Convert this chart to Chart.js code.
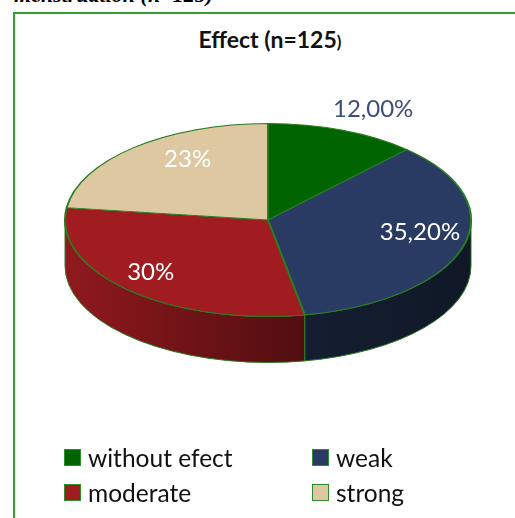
<!DOCTYPE html>
<html>
<head>
<meta charset="utf-8">
<script src="https://cdn.jsdelivr.net/npm/chart.js@4.4.1/dist/chart.umd.min.js"></script>
<style>
  body { margin: 0; width: 515px; height: 518px; overflow: hidden; background: #fff; position: relative; font-family: Lato, sans-serif; }
  #caption { position: absolute; left: -120px; width: 333px; top: -16px; text-align: right; font: italic bold 22px/22px "Liberation Serif", serif; color: #000; white-space: nowrap; }
  #frame { position: absolute; left: 13px; top: 12px; width: 600px; height: 600px; border: 2px solid #33a033; }
  #title { position: absolute; left: 0; width: 540px; top: 25px; text-align: center; font: bold 23px Lato, sans-serif; color: #111; }
  #title span { font-size: 17px; }
  #wrap { position: absolute; left: 0; top: 0; width: 515px; height: 518px; }
  #legend { position: absolute; left: 64px; top: 440px; display: grid; grid-template-columns: 248px 150px; font: 24.5px Lato, sans-serif; color: #111; }
  .item { display: flex; align-items: center; height: 35px; }
  .box { width: 15px; height: 15px; border: 1px solid #2e8b2e; margin-right: 7px; flex: none; }
</style>
</head>
<body>
<div id="caption">menstruation (n=125)</div>
<div id="frame"></div>
<div id="title">Effect (n=125<span>)</span></div>
<div id="wrap"><canvas id="pie"></canvas></div>
<div id="legend"></div>
<script>
const categories = ['without efect', 'weak', 'moderate', 'strong'];
const shares = [12, 35.2, 30, 23];
const shareLabels = ['12,00%', '35,20%', '30%', '23%'];
const sliceColors = ['#006400', '#293b62', '#a01c20', '#dec8a2'];

const TILT = 97 / 204;   // vertical squash of the top face
const DEPTH = 46;        // thickness of the pie
const EDGE = '#2a7d23';

function shade(hex, f) {
    const n = parseInt(hex.slice(1), 16);
    const r = Math.round(((n >> 16) & 255) * f);
    const g = Math.round(((n >> 8) & 255) * f);
    const b = Math.round((n & 255) * f);
    return `rgb(${r},${g},${b})`;
}

// fake 3D: draw the front walls, then squash the pie itself
const tiltPlugin = {
    id: 'tilt',
    beforeDatasetsDraw(chart) {
        const ctx = chart.ctx;
        const arcs = chart.getDatasetMeta(0).data;
        const { x: cx, y: cy, outerRadius: rx } = arcs[0];
        const ry = rx * TILT;
        arcs.forEach((arc, i) => {
            const a1 = Math.max(arc.startAngle, 0);
            const a2 = Math.min(arc.endAngle, Math.PI);
            if (a2 <= a1) return;
            const grad = ctx.createLinearGradient(cx - rx, 0, cx + rx, 0);
            grad.addColorStop(0, shade(sliceColors[i], 0.9));
            grad.addColorStop(0.6, shade(sliceColors[i], 0.5));
            grad.addColorStop(1, shade(sliceColors[i], 0.4));
            ctx.beginPath();
            ctx.ellipse(cx, cy, rx, ry, 0, a1, a2);
            ctx.lineTo(cx + rx * Math.cos(a2), cy + ry * Math.sin(a2) + DEPTH);
            ctx.ellipse(cx, cy + DEPTH, rx, ry, 0, a2, a1, true);
            ctx.closePath();
            ctx.fillStyle = grad;
            ctx.fill();
            ctx.lineWidth = 1;
            ctx.strokeStyle = EDGE;
            ctx.stroke();
        });
        ctx.save();
        ctx.translate(cx, cy);
        ctx.scale(1, TILT);
        ctx.translate(-cx, -cy);
    },
    afterDatasetsDraw(chart) {
        const ctx = chart.ctx;
        ctx.restore();
        const arcs = chart.getDatasetMeta(0).data;
        const fx = [1.41, 0.78, 0.84, 0.60];
        const fy = [1.24, 0.43, 0.73, 0.85];
        const colors = ['#3c4d7a', '#fff', '#fff', '#fff'];
        ctx.save();
        ctx.font = '24px Lato, sans-serif';
        ctx.textAlign = 'center';
        ctx.textBaseline = 'alphabetic';
        arcs.forEach((arc, i) => {
            const m = (arc.startAngle + arc.endAngle) / 2;
            const r = arc.outerRadius;
            const x = arc.x + Math.cos(m) * r * fx[i];
            const y = arc.y + Math.sin(m) * r * TILT * fy[i];
            ctx.fillStyle = colors[i];
            ctx.fillText(shareLabels[i], x, y + 8.5);
        });
        ctx.restore();
    }
};

new Chart(document.getElementById('pie'), {
    type: 'pie',
    data: {
        labels: categories,
        datasets: [{
            data: shares,
            backgroundColor: sliceColors,
            borderColor: EDGE,
            borderWidth: 2,
            hoverOffset: 0,
            offset: 0
        }]
    },
    options: {
        responsive: true,
        maintainAspectRatio: false,
        animation: false,
        events: [],
        layout: { padding: { left: 64, right: 43, top: 16, bottom: 94 } },
        plugins: {
            legend: { display: false },
            tooltip: { enabled: false },
            title: { display: false }
        }
    },
    plugins: [tiltPlugin]
});

const legend = document.getElementById('legend');
categories.forEach((name, i) => {
    const item = document.createElement('div');
    item.className = 'item';
    const box = document.createElement('span');
    box.className = 'box';
    box.style.background = sliceColors[i];
    item.appendChild(box);
    item.appendChild(document.createTextNode(name));
    legend.appendChild(item);
});
</script>
</body>
</html>
